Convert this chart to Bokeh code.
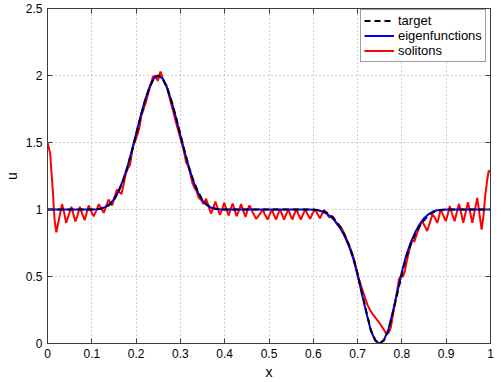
import numpy as np
from bokeh.plotting import figure
from bokeh.models import (Range1d, LinearAxis, Legend, LegendItem, FixedTicker,
                          CustomJSTickFormatter, ColumnDataSource)
from bokeh.embed import file_html
from bokeh.resources import INLINE

# ---------------- data ----------------
x_ticks = [0, 0.1, 0.2, 0.3, 0.4, 0.5, 0.6, 0.7, 0.8, 0.9, 1.0]
x_tick_labels = ["0", "0.1", "0.2", "0.3", "0.4", "0.5", "0.6", "0.7", "0.8", "0.9", "1"]
y_ticks = [0, 0.5, 1, 1.5, 2, 2.5]
y_tick_labels = ["0", "0.5", "1", "1.5", "2", "2.5"]

grid_x = np.linspace(0, 1, 101)

target_u = [
    1.0, 1.0, 1.0, 1.0, 1.0, 1.0, 1.0, 1.0, 1.0, 1.0, 1.0,
    1.001, 1.005, 1.015, 1.035, 1.07, 1.13, 1.21, 1.31, 1.43, 1.56,
    1.69, 1.81, 1.91, 1.977, 2.0, 1.977, 1.91, 1.81, 1.69, 1.56,
    1.43, 1.31, 1.21, 1.13, 1.07, 1.035, 1.015, 1.005, 1.001,
    1.0, 1.0, 1.0, 1.0, 1.0, 1.0, 1.0, 1.0, 1.0, 1.0, 1.0,
    1.0, 1.0, 1.0, 1.0, 1.0, 1.0, 1.0, 1.0, 1.0, 1.0,
    0.997, 0.99, 0.978, 0.955, 0.92, 0.875, 0.815, 0.74, 0.645, 0.52,
    0.375, 0.235, 0.10, 0.025, 0.0, 0.025, 0.10, 0.235, 0.375, 0.52,
    0.645, 0.74, 0.815, 0.875, 0.92, 0.955, 0.978, 0.99, 0.997,
    1.0, 1.0, 1.0, 1.0, 1.0, 1.0, 1.0, 1.0, 1.0, 1.0, 1.0,
]

eigen_u = [
    1.0, 1.0, 1.0, 1.0, 1.0, 1.0, 1.0, 1.0, 1.0, 1.0, 1.0,
    1.002, 1.007, 1.018, 1.04, 1.075, 1.135, 1.215, 1.315, 1.435, 1.565,
    1.695, 1.815, 1.912, 1.978, 2.0, 1.976, 1.908, 1.805, 1.685, 1.555,
    1.425, 1.305, 1.205, 1.125, 1.065, 1.032, 1.013, 1.004, 1.001,
    1.0, 1.0, 1.0, 1.0, 1.0, 1.0, 1.0, 1.0, 1.0, 1.0, 1.0,
    1.0, 1.0, 1.0, 1.0, 1.0, 1.0, 1.0, 1.0, 1.0, 0.999,
    0.995, 0.985, 0.97, 0.945, 0.91, 0.865, 0.805, 0.73, 0.635, 0.51,
    0.365, 0.225, 0.095, 0.02, 0.0, 0.03, 0.11, 0.245, 0.39, 0.535,
    0.66, 0.755, 0.83, 0.89, 0.935, 0.965, 0.985, 0.995, 0.999,
    1.0, 1.0, 1.0, 1.0, 1.0, 1.0, 1.0, 1.0, 1.0, 1.0, 1.0,
]

soliton_x = [
    0.000, 0.006, 0.012, 0.016, 0.020, 0.026, 0.033, 0.038, 0.042, 0.048,
    0.054, 0.058, 0.063, 0.068, 0.073, 0.078, 0.084, 0.088, 0.093, 0.098,
    0.104, 0.110, 0.116, 0.121, 0.127, 0.132, 0.138, 0.142, 0.146, 0.151,
    0.157, 0.162, 0.167, 0.172, 0.177, 0.182, 0.186, 0.193, 0.199, 0.204,
    0.208, 0.212, 0.218, 0.222, 0.227, 0.232, 0.238, 0.243, 0.249, 0.255,
    0.260, 0.264, 0.268, 0.273, 0.279, 0.284, 0.290, 0.295, 0.300, 0.306,
    0.310, 0.313, 0.318, 0.322, 0.327, 0.332, 0.336, 0.341, 0.347, 0.352,
    0.358, 0.364, 0.369, 0.374, 0.379, 0.384, 0.389, 0.394, 0.399, 0.404,
    0.409, 0.413, 0.418, 0.423, 0.427, 0.432, 0.437, 0.442, 0.447, 0.451,
    0.456, 0.463, 0.471, 0.478, 0.486, 0.491, 0.497, 0.502, 0.507, 0.511,
    0.516, 0.520, 0.525, 0.530, 0.534, 0.539, 0.544, 0.548, 0.553, 0.557,
    0.562, 0.567, 0.572, 0.577, 0.582, 0.587, 0.593, 0.598, 0.604, 0.609,
    0.615, 0.620, 0.625, 0.630, 0.636, 0.641, 0.645, 0.650, 0.655, 0.660,
    0.664, 0.667, 0.671, 0.675, 0.680, 0.685, 0.692, 0.697, 0.703, 0.709,
    0.715, 0.722, 0.728, 0.734, 0.741, 0.748, 0.758, 0.765, 0.770, 0.775,
    0.780, 0.786, 0.790, 0.7935, 0.797, 0.802, 0.806, 0.812, 0.817, 0.820,
    0.824, 0.828, 0.831, 0.835, 0.842, 0.846, 0.851, 0.857, 0.863, 0.869,
    0.874, 0.880, 0.884, 0.887, 0.893, 0.899, 0.904, 0.908, 0.913, 0.919,
    0.924, 0.929, 0.934, 0.9385, 0.944, 0.949, 0.954, 0.959, 0.965, 0.970,
    0.975, 0.980, 0.984, 0.988, 0.9925, 0.996, 1.000,
]
soliton_u = [
    1.50, 1.42, 1.14, 0.92, 0.83, 0.93, 1.04, 0.97, 0.90, 0.96,
    1.02, 0.97, 0.91, 0.96, 1.02, 0.97, 0.92, 0.97, 1.03, 0.99,
    0.95, 0.99, 1.04, 1.01, 0.975, 1.02, 1.074, 1.05, 1.03, 1.09,
    1.148, 1.13, 1.116, 1.19, 1.27, 1.31, 1.33, 1.47, 1.52, 1.57,
    1.62, 1.70, 1.76, 1.80, 1.86, 1.92, 1.99, 2.00, 1.96, 2.03,
    1.98, 1.95, 1.93, 1.87, 1.79, 1.73, 1.65, 1.59, 1.53, 1.46,
    1.40, 1.35, 1.32, 1.27, 1.20, 1.16, 1.14, 1.09, 1.07, 1.04,
    1.08, 1.02, 0.97, 1.01, 1.06, 1.01, 0.96, 1.00, 1.05, 1.00,
    0.955, 1.00, 1.045, 0.99, 0.95, 0.99, 1.04, 0.99, 0.945, 0.99,
    1.03, 0.98, 0.93, 0.96, 1.00, 0.96, 0.925, 0.965, 1.00, 0.96,
    0.925, 0.965, 1.00, 0.96, 0.925, 0.965, 1.00, 0.96, 0.925, 0.965,
    1.00, 0.96, 0.925, 0.965, 1.00, 0.965, 0.93, 0.97, 1.00, 0.97,
    0.935, 0.97, 0.995, 0.97, 0.94, 0.95, 0.945, 0.91, 0.885, 0.875,
    0.86, 0.84, 0.81, 0.78, 0.74, 0.70, 0.63, 0.56, 0.48, 0.42,
    0.36, 0.29, 0.25, 0.22, 0.19, 0.16, 0.11, 0.07, 0.08, 0.12,
    0.22, 0.33, 0.41, 0.48, 0.50, 0.50, 0.53, 0.63, 0.70, 0.74,
    0.77, 0.76, 0.79, 0.83, 0.89, 0.913, 0.88, 0.84, 0.90, 0.963,
    0.94, 0.90, 0.95, 1.00, 0.96, 0.913, 0.97, 1.025, 0.97, 0.913,
    0.98, 1.042, 0.97, 0.90, 0.98, 1.054, 0.98, 0.90, 1.00, 1.086,
    0.97, 0.85, 0.95, 1.10, 1.22, 1.29, 1.28,
]

# ---------------- figure ----------------
FONT = "Liberation Sans"

p = figure(width=502, height=382, output_backend="svg", toolbar_location=None,
           x_range=Range1d(0, 1), y_range=Range1d(0, 2.5),
           min_border_left=46, min_border_right=12, min_border_top=8,
           min_border_bottom=37)
p.background_fill_color = "white"
p.border_fill_color = "white"
p.outline_line_color = "#3c3c3c"
p.outline_line_width = 1

p.xaxis.ticker = FixedTicker(ticks=x_ticks)
p.yaxis.ticker = FixedTicker(ticks=y_ticks)
p.xaxis.major_label_overrides = {t: l for t, l in zip(x_ticks, x_tick_labels)}
p.yaxis.major_label_overrides = {t: l for t, l in zip(y_ticks, y_tick_labels)}
p.xaxis.axis_label = "x"
p.yaxis.axis_label = "u"

for ax in (p.xaxis[0], p.yaxis[0]):
    ax.axis_line_color = "#3c3c3c"
    ax.major_tick_line_color = "#3c3c3c"
    ax.major_tick_in = 5
    ax.major_tick_out = 0
    ax.minor_tick_in = 0
    ax.minor_tick_out = 0
    ax.major_label_text_font = FONT
    ax.major_label_text_font_size = "12px"
    ax.major_label_text_color = "black"
    ax.axis_label_text_font = FONT
    ax.axis_label_text_font_size = "14px"
    ax.axis_label_text_font_style = "normal"
    ax.axis_label_text_color = "black"
p.xaxis.major_label_standoff = 5
p.xaxis.axis_label_standoff = 3
p.yaxis.major_label_standoff = 5
p.yaxis.axis_label_standoff = 3

# tick marks on top and right (box style)
for loc, ticks in (("above", x_ticks), ("right", y_ticks)):
    ax = LinearAxis(ticker=FixedTicker(ticks=ticks),
                    formatter=CustomJSTickFormatter(code="return ''"))
    ax.axis_line_color = "#3c3c3c"
    ax.major_tick_line_color = "#3c3c3c"
    ax.major_tick_in = 5
    ax.major_tick_out = 0
    ax.minor_tick_in = 0
    ax.minor_tick_out = 0
    ax.major_label_standoff = 0
    ax.major_label_text_font_size = "1px"
    p.add_layout(ax, loc)

for g, ticks in ((p.xgrid[0], x_ticks), (p.ygrid[0], y_ticks)):
    g.ticker = FixedTicker(ticks=ticks)
    g.grid_line_color = "#a0a0a0"
    g.grid_line_dash = "1 3"
    g.grid_line_width = 1

src_t = ColumnDataSource(dict(x=grid_x, u=target_u))
src_e = ColumnDataSource(dict(x=grid_x, u=eigen_u))
src_s = ColumnDataSource(dict(x=soliton_x, u=soliton_u))

r_s = p.line("x", "u", source=src_s, line_color="#ff0000", line_width=2)
r_e = p.line("x", "u", source=src_e, line_color="#0000ff", line_width=2)
r_t = p.line("x", "u", source=src_t, line_color="black", line_width=2,
             line_dash="6 4")

legend = Legend(items=[LegendItem(label="target", renderers=[r_t]),
                       LegendItem(label="eigenfunctions", renderers=[r_e]),
                       LegendItem(label="solitons", renderers=[r_s])],
                location=(313, 281))
legend.label_text_font = FONT
legend.label_text_font_size = "13px"
legend.label_text_color = "black"
legend.border_line_color = "#3c3c3c"
legend.border_line_width = 1
legend.background_fill_color = "white"
legend.background_fill_alpha = 1
legend.padding = 3
legend.spacing = 0
legend.margin = 0
legend.glyph_width = 30
legend.glyph_height = 15
legend.label_height = 15
legend.label_standoff = 4
p.add_layout(legend, "center")

open("out.html", "w").write(file_html(p, INLINE))
